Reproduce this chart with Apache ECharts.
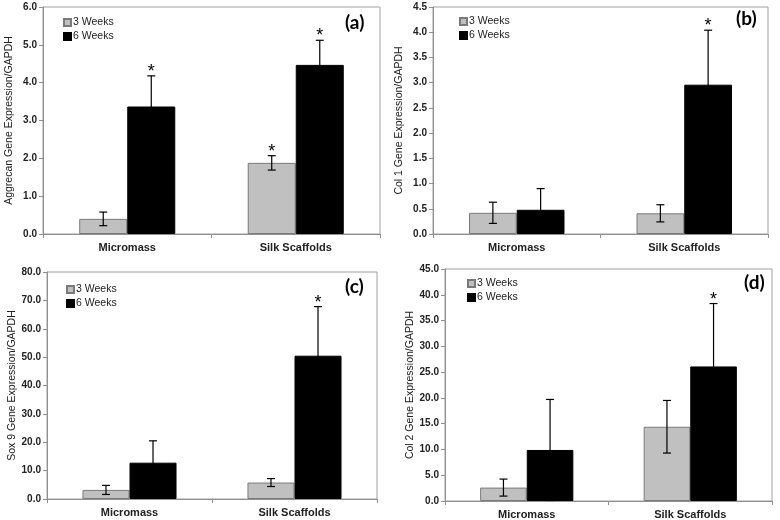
<!DOCTYPE html>
<html><head><meta charset="utf-8">
<script src="https://cdn.jsdelivr.net/npm/echarts@6/dist/echarts.min.js"></script>
<style>html,body{margin:0;padding:0;background:#fff}#c{width:780px;height:520px}</style>
</head><body><div id="c"></div>
<script>
var categories = ['Micromass', 'Silk Scaffolds'];
var seriesNames = ['3 Weeks', '6 Weeks'];

var aggrecan3 = [0.40, 1.88], aggrecan3Err = [0.18, 0.19], aggrecan3Star = [false, true];
var aggrecan6 = [3.37, 4.47], aggrecan6Err = [0.81, 0.65], aggrecan6Star = [true, true];

var col1_3 = [0.42, 0.41], col1_3Err = [0.21, 0.17], col1_3Star = [false, false];
var col1_6 = [0.48, 2.96], col1_6Err = [0.42, 1.08], col1_6Star = [false, true];

var sox9_3 = [3.2, 5.8], sox9_3Err = [1.6, 1.4], sox9_3Star = [false, false];
var sox9_6 = [12.8, 50.5], sox9_6Err = [7.7, 17.3], sox9_6Star = [false, true];

var col2_3 = [2.6, 14.4], col2_3Err = [1.65, 5.1], col2_3Star = [false, false];
var col2_6 = [9.9, 26.1], col2_6Err = [9.8, 12.2], col2_6Star = [false, true];

var yTitles = ['Aggrecan Gene Expression/GAPDH', 'Col 1 Gene Expression/GAPDH', 'Sox 9 Gene Expression/GAPDH', 'Col 2 Gene Expression/GAPDH'];
var yMax = [6, 4.5, 80, 45];
var yInterval = [1, 0.5, 10, 5];
var panelLabels = ['(a)', '(b)', '(c)', '(d)'];

var panels = [
  {v3: aggrecan3, e3: aggrecan3Err, s3: aggrecan3Star, v6: aggrecan6, e6: aggrecan6Err, s6: aggrecan6Star},
  {v3: col1_3, e3: col1_3Err, s3: col1_3Star, v6: col1_6, e6: col1_6Err, s6: col1_6Star},
  {v3: sox9_3, e3: sox9_3Err, s3: sox9_3Star, v6: sox9_6, e6: sox9_6Err, s6: sox9_6Star},
  {v3: col2_3, e3: col2_3Err, s3: col2_3Star, v6: col2_6, e6: col2_6Err, s6: col2_6Star}
];

// layout
var grids = [
  {left: 43, top: 7, width: 337, height: 227},
  {left: 433, top: 7, width: 335, height: 227},
  {left: 47, top: 272, width: 330, height: 227},
  {left: 445, top: 269, width: 327, height: 233}
];
var legendPos = [{left: 58, top: 12}, {left: 454, top: 11}, {left: 61, top: 279}, {left: 462, top: 273}];
var labelPos = [[357, 25], [748, 21], [357, 289], [756, 285]];
var gapFrac = 0.43;
var font = 'Liberation Sans, Arial, sans-serif';

var option = {
  animation: false,
  backgroundColor: '#fff',
  grid: [], xAxis: [], yAxis: [], series: [], legend: [], graphic: []
};

panels.forEach(function (p, gi) {
  var g = grids[gi];
  option.grid.push({left: g.left, top: g.top, width: g.width, height: g.height, show: true, borderColor: '#a0a0a0', borderWidth: 1, backgroundColor: 'transparent'});
  option.xAxis.push({
    type: 'category', gridIndex: gi, data: categories,
    axisLine: {lineStyle: {color: '#909090'}},
    axisTick: {show: true, length: 4, lineStyle: {color: '#909090'}},
    axisLabel: {color: '#222', fontWeight: 'bold', fontSize: 11, fontFamily: font, margin: 8}
  });
  option.yAxis.push({
    type: 'value', gridIndex: gi, min: 0, max: yMax[gi], interval: yInterval[gi],
    name: yTitles[gi], nameLocation: 'middle', nameGap: 28, nameRotate: 90,
    nameTextStyle: {fontSize: 10.5, color: '#222', fontFamily: font},
    axisLine: {show: true, lineStyle: {color: '#909090'}},
    axisTick: {show: true, length: 4, lineStyle: {color: '#909090'}},
    splitLine: {show: false},
    axisLabel: {color: '#222', fontSize: 10, fontWeight: 'bold', fontFamily: font, margin: 6,
      formatter: function (v) { return v.toFixed(1); }}
  });
  option.series.push({
    name: seriesNames[0], type: 'bar', xAxisIndex: gi, yAxisIndex: gi, data: p.v3,
    barGap: '0%', barCategoryGap: (gapFrac * 100) + '%',
    itemStyle: {color: '#c0c0c0', borderColor: '#7a7a7a', borderWidth: 1}
  });
  option.series.push({
    name: seriesNames[1], type: 'bar', xAxisIndex: gi, yAxisIndex: gi, data: p.v6,
    barGap: '0%', barCategoryGap: (gapFrac * 100) + '%',
    itemStyle: {color: '#000', borderColor: '#000', borderWidth: 1}
  });
  var errData = [];
  p.v3.forEach(function (v, i) { errData.push([i, v, p.e3[i], 0, p.s3[i] ? 1 : 0]); });
  p.v6.forEach(function (v, i) { errData.push([i, v, p.e6[i], 1, p.s6[i] ? 1 : 0]); });
  option.series.push({
    type: 'custom', xAxisIndex: gi, yAxisIndex: gi, data: errData, z: 10,
    renderItem: function (params, api) {
      var ci = api.value(0), v = api.value(1), e = api.value(2), s = api.value(3), star = api.value(4);
      var bw = api.size([1, 0])[0];
      var barW = bw * (1 - gapFrac) / 2;
      var c = api.coord([ci, v]);
      var x = c[0] + (s === 0 ? -barW / 2 : barW / 2);
      var top = api.coord([ci, v + e])[1];
      var bot = api.coord([ci, v - e])[1];
      var cap = 4;
      var st = {stroke: '#000', lineWidth: 1.2};
      var children = [
        {type: 'line', shape: {x1: x, y1: top, x2: x, y2: bot}, style: st},
        {type: 'line', shape: {x1: x - cap, y1: top, x2: x + cap, y2: top}, style: st},
        {type: 'line', shape: {x1: x - cap, y1: bot, x2: x + cap, y2: bot}, style: st}
      ];
      if (star) {
        children.push({type: 'text', style: {text: '*', x: x, y: top - 4, textAlign: 'center', textVerticalAlign: 'middle', fontSize: 18, fontFamily: font, fill: '#000'}});
      }
      return {type: 'group', children: children};
    }
  });
  option.legend.push({
    data: [{name: seriesNames[0]}, {name: seriesNames[1]}],
    orient: 'vertical', left: legendPos[gi].left, top: legendPos[gi].top,
    icon: 'rect', itemWidth: 7, itemHeight: 7, itemGap: 3, selectedMode: false,
    textStyle: {fontSize: 10.5, color: '#222', fontFamily: font, padding: [0, 0, 0, -3]}
  });
  option.graphic.push({
    type: 'text', left: labelPos[gi][0] - 12, top: labelPos[gi][1] - 12,
    style: {text: panelLabels[gi], fontSize: 19, fontWeight: 'bold', fontFamily: 'Lato, Open Sans, sans-serif', fill: '#000'}
  });
});

var chart = echarts.init(document.getElementById('c'), null, {renderer: 'canvas'});
chart.setOption(option);
</script>
</body></html>
